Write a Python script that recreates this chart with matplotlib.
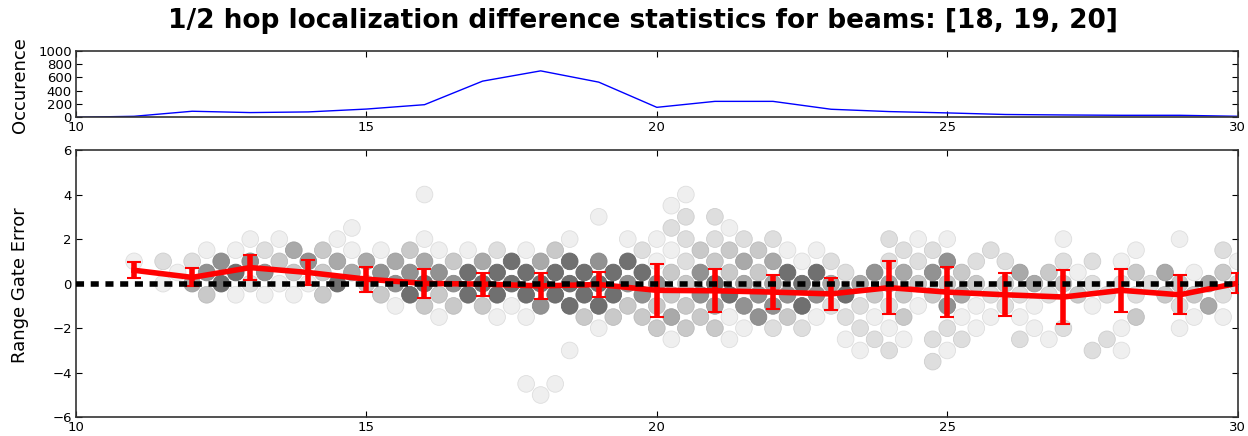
import matplotlib
matplotlib.use("Agg")
import numpy as np
import matplotlib.pyplot as plt

plt.rcParams["lines.scale_dashes"] = False

# top panel: number of samples per range gate
occ_gate = np.arange(10, 31)
occ_count = [0, 15, 91, 71, 81, 124, 190, 545, 700, 530, 150,
             240, 240, 121, 86, 66, 42, 35, 30, 30, 15]

# red curve: mean range gate error per gate and its spread
err_gate = np.arange(11, 31)
err_mean = [0.6, 0.28, 0.72, 0.5, 0.2, 0.01, -0.02, -0.1, -0.04, -0.3,
            -0.32, -0.38, -0.46, -0.18, -0.38, -0.5, -0.6, -0.3, -0.5, 0.02]
err_std = [0.35, 0.4, 0.56, 0.56, 0.56, 0.65, 0.52, 0.58, 0.57, 1.2,
           0.96, 0.76, 0.72, 1.18, 1.12, 0.96, 1.2, 0.96, 0.87, 0.45]

# density of (gate, error) pairs on a hex lattice, one string per row.
# integer rows start at gate 11.0, half rows at 11.25, one char per 0.5 gate
# '.' = empty, 1 (few) .. 6 (many); spaces are only for reading
hex_rows = [4.0, 3.5, 3.0, 2.5, 2.0, 1.5, 1.0, 0.5, 0.0, -0.5,
            -1.0, -1.5, -2.0, -2.5, -3.0, -3.5, -4.5, -5.0]
hex_density = [
    ".......... 1........1 .......... .........",
    ".......... ........1. .......... ........",
    ".......... ......1..2 2......... .........",
    ".......1.. ........2. 1......... ........",
    "....11.1.. 1....1.112 222...211. ..1...1..",
    "..11243113 11213..213 3311..22.2 ....1..2",
    "1225535444 4346465612 34412.2252 2.221...1",
    ".156533455 5666666635 336625453. 431.3413",
    ".146211635 6566666553 6446444333 343222342",
    "..31113.36 3666666535 6555633342 22322332",
    ".........1 3331566333 4556222151 21.1..24.",
    ".......... 1.11.33343 1531213.11 1...3.11",
    ".......... ......1.33 3122.21.21 .12.1.1..",
    ".......... ........1. 1...12122. 21.2....",
    ".......... .....1.... .....12.1. ...21....",
    ".......... .......... .......2.. ........",
    ".......... ...11..... .......... ........",
    ".......... ....1..... .......... .........",
]
grey_levels = ["#efefef", "#dedede", "#c9c9c9", "#a9a9a9", "#929292", "#707070"]

hx, hy, hc = [], [], []
for y, row in zip(hex_rows, hex_density):
    x0 = 11.0 if float(y).is_integer() else 11.25
    for i, ch in enumerate(row.replace(" ", "")):
        if ch != ".":
            hx.append(x0 + 0.5 * i)
            hy.append(y)
            hc.append(int(ch))

face = [grey_levels[c - 1] for c in hc]
edge = [tuple(v * 0.93 for v in matplotlib.colors.to_rgb(f)) for f in face]

fig = plt.figure(figsize=(12.48, 4.36), dpi=100)
ax_top = fig.add_axes([0.0609, 0.731, 0.9308, 0.1521])
ax = fig.add_axes([0.0609, 0.0429, 0.9308, 0.6131])

for a in (ax_top, ax):
    a.tick_params(direction="in", top=True, right=True, length=4,
                  labelsize=9.5, pad=3)
    for s in a.spines.values():
        s.set_color("#333333")
        s.set_linewidth(1.2)

ax_top.plot(occ_gate, occ_count, color="b", lw=1)
ax_top.set_xlim(10, 30)
ax_top.set_ylim(0, 1000)
ax_top.set_yticks(range(0, 1001, 200))
ax_top.set_xticks(range(10, 31, 5))

ax.scatter(hx, hy, s=144, c=face, edgecolors=edge, linewidths=0.6, zorder=1)
ax.errorbar(err_gate, err_mean, yerr=err_std, color="r", lw=4,
            elinewidth=4, capsize=5, capthick=1.5, zorder=3)
ax.axhline(0, color="k", ls="--", lw=4, dashes=(5.8, 4.8), zorder=4)
ax.set_xlim(10, 30)
ax.set_ylim(-6, 6)
ax.set_yticks(range(-6, 7, 2))
ax.set_xticks(range(10, 31, 5))

fig.text(0.016, 0.806, "Occurence", rotation=90, ha="center", va="center",
         fontsize=13)
fig.text(0.016, 0.346, "Range Gate Error", rotation=90, ha="center",
         va="center", fontsize=13)
fig.text(0.515, 0.952, "1/2 hop localization difference statistics for beams: [18, 19, 20]",
         ha="center", va="center", fontsize=19, fontweight="bold")

fig.savefig("out.png", dpi=100)
